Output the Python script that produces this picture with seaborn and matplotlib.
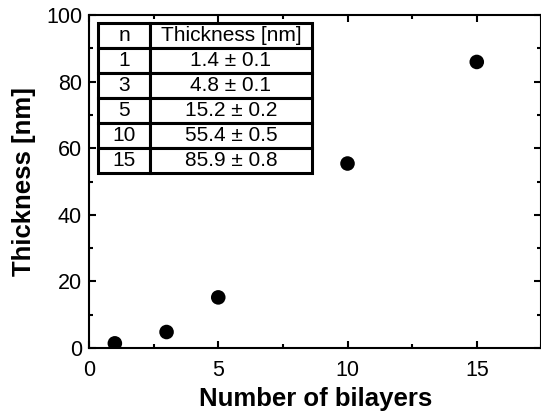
import matplotlib
matplotlib.use("Agg")
import matplotlib.pyplot as plt
from matplotlib.ticker import MultipleLocator
import seaborn as sns
import pandas as pd

bilayers = [1, 3, 5, 10, 15]
thickness = [1.4, 4.8, 15.2, 55.4, 85.9]
table_n = ["1", "3", "5", "10", "15"]
table_thick = ["1.4 ± 0.1", "4.8 ± 0.1", "15.2 ± 0.2", "55.4 ± 0.5", "85.9 ± 0.8"]
table_header = ["n", "Thickness [nm]"]

sns.set_style("ticks")
plt.rcParams['font.family'] = ['Liberation Sans', 'DejaVu Sans']
plt.rcParams['text.color'] = 'black'
plt.rcParams['axes.labelcolor'] = 'black'
plt.rcParams['xtick.color'] = 'black'
plt.rcParams['ytick.color'] = 'black'

fig = plt.figure(figsize=(5.41, 4.16), dpi=100)
ax = fig.add_axes([89/541, 68/416, 452.4/541, 333/416])

df = pd.DataFrame({"n": bilayers, "t": thickness})
sns.scatterplot(data=df, x="n", y="t", color="black", s=110, edgecolor="none", ax=ax, legend=False)

ax.set_xlim(0, 17.5)
ax.set_ylim(0, 100)
ax.xaxis.set_major_locator(MultipleLocator(5))
ax.xaxis.set_minor_locator(MultipleLocator(2.5))
ax.yaxis.set_major_locator(MultipleLocator(20))
ax.yaxis.set_minor_locator(MultipleLocator(10))
ax.tick_params(which='both', direction='in', top=True, right=True, width=1.5, colors='black')
ax.tick_params(which='major', length=5, labelsize=15.5)
ax.tick_params(axis='x', which='major', pad=9)
ax.tick_params(axis='y', which='major', pad=5)
ax.tick_params(which='minor', length=3)
for s in ax.spines.values():
    s.set_linewidth(1.5)
    s.set_color('black')

ax.set_xlabel("Number of bilayers", fontsize=18.5, fontweight='bold', labelpad=4, color='black')
ax.set_ylabel("Thickness [nm]", fontsize=18.5, fontweight='bold', labelpad=7, color='black')

cell_text = [[a, b] for a, b in zip(table_n, table_thick)]
tab = ax.table(cellText=cell_text, colLabels=table_header, cellLoc='center',
               colWidths=[0.243, 0.757], bbox=[0.0199, 0.5255, 0.473, 0.4505])
tab.auto_set_font_size(False)
tab.set_fontsize(15)
for key, cell in tab.get_celld().items():
    cell.set_linewidth(2.2)
    cell.set_edgecolor('black')
    cell.set_facecolor('white')
    cell.get_text().set_color('black')

fig.savefig("out.png", dpi=100)
